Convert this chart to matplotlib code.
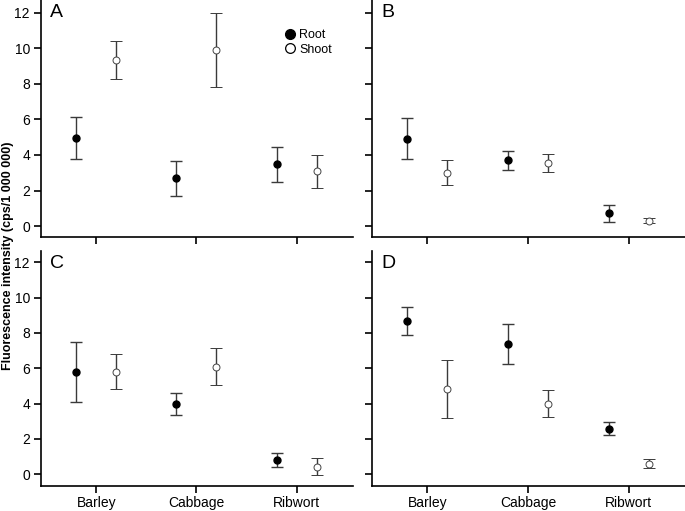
import matplotlib.pyplot as plt
from matplotlib.lines import Line2D
import numpy as np

plt.rcParams['font.family'] = ['Liberation Sans', 'DejaVu Sans']

plants = ["Barley", "Cabbage", "Ribwort"]
panels = ["A", "B", "C", "D"]

# mean, upper end, lower end of error bar for each panel
root_mean = {"A": [4.97, 2.68, 3.47], "B": [4.91, 3.70, 0.71],
             "C": [5.79, 3.96, 0.79], "D": [8.68, 7.37, 2.58]}
root_hi = {"A": [6.12, 3.68, 4.45], "B": [6.06, 4.22, 1.20],
           "C": [7.51, 4.60, 1.19], "D": [9.49, 8.50, 2.93]}
root_lo = {"A": [3.79, 1.69, 2.49], "B": [3.75, 3.17, 0.24],
           "C": [4.08, 3.34, 0.43], "D": [7.88, 6.26, 2.20]}

shoot_mean = {"A": [9.32, 9.90, 3.08], "B": [3.00, 3.55, 0.30],
              "C": [5.79, 6.08, 0.43], "D": [4.83, 4.00, 0.58]}
shoot_hi = {"A": [10.43, 12.00, 4.01], "B": [3.71, 4.07, 0.43],
            "C": [6.79, 7.13, 0.89], "D": [6.47, 4.77, 0.83]}
shoot_lo = {"A": [8.25, 7.82, 2.16], "B": [2.29, 3.02, 0.17],
            "C": [4.81, 5.06, -0.06], "D": [3.20, 3.21, 0.34]}

fig = plt.figure(figsize=(6.85, 5.11), dpi=100)

boxes = {"A": [0.060, 0.536, 0.455, 0.464],
         "B": [0.543, 0.536, 0.457, 0.464],
         "C": [0.060, 0.048, 0.455, 0.460],
         "D": [0.543, 0.048, 0.457, 0.460]}
ylims = {"A": (-0.62, 12.72), "B": (-0.62, 12.72),
         "C": (-0.70, 12.62), "D": (-0.70, 12.62)}

x = np.arange(1, 4)
ecol = "#3a3a3a"

for p in panels:
    ax = fig.add_axes(boxes[p])
    rm = np.array(root_mean[p])
    sm = np.array(shoot_mean[p])
    rerr = [rm - np.array(root_lo[p]), np.array(root_hi[p]) - rm]
    serr = [sm - np.array(shoot_lo[p]), np.array(shoot_hi[p]) - sm]
    ax.errorbar(x - 0.2, rm, yerr=rerr, fmt='o', color='black', ecolor=ecol,
                elinewidth=1.0, capsize=4, capthick=1.0, markersize=5)
    ax.errorbar(x + 0.2, sm, yerr=serr, fmt='o', mfc='white', mec='#444444',
                mew=0.7, ecolor=ecol, elinewidth=1.0, capsize=4, capthick=1.0,
                markersize=5)
    ax.set_xlim(0.45, 3.56)
    ax.set_ylim(*ylims[p])
    ax.set_xticks(x)
    if p in ("C", "D"):
        ax.set_xticklabels(plants)
    else:
        ax.set_xticklabels([])
    ax.set_yticks([0, 2, 4, 6, 8, 10, 12])
    if p in ("B", "D"):
        ax.set_yticklabels([])
    for s in ("top", "right"):
        ax.spines[s].set_visible(False)
    for s in ("left", "bottom"):
        ax.spines[s].set_linewidth(1.2)
    ax.tick_params(direction='out', length=5, width=1.2, labelsize=10, pad=3)
    ax.tick_params(axis='x', pad=2)
    ax.text(0.03, 0.985, p, transform=ax.transAxes, fontsize=14, va='top', ha='left')

    if p == "A":
        handles = [Line2D([], [], ls='none', marker='o', color='black', markersize=7),
                   Line2D([], [], ls='none', marker='o', mfc='white', mec='black',
                          mew=0.9, markersize=7)]
        ax.legend(handles, ["Root", "Shoot"], frameon=False, fontsize=9,
                  loc='upper left', bbox_to_anchor=(0.74, 0.925),
                  handletextpad=0.1, labelspacing=0.2, handlelength=1.2)

fig.text(0.012, 0.5, "Fluorescence intensity (cps/1 000 000)", rotation=90,
         fontsize=9, fontweight='bold', va='center', ha='center')

fig.savefig("out.png", dpi=100)
